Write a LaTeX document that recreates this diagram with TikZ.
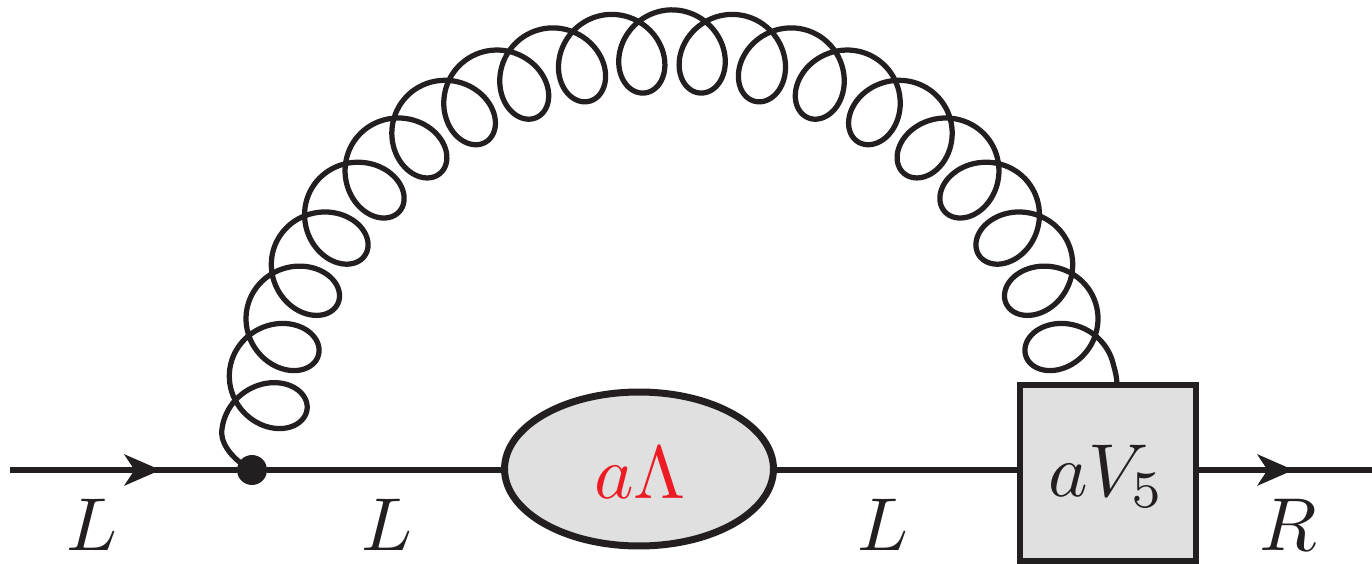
\documentclass[tikz,border=0pt]{standalone}
\usetikzlibrary{arrows.meta,shapes.geometric}
\definecolor{ink}{HTML}{231F20}
\definecolor{fillgrey}{HTML}{E0E0E0}
\definecolor{labelred}{HTML}{ED1C24}
\begin{document}
\begin{tikzpicture}[x=0.02cm,y=-0.02cm,
  declare function={
    ph(\t)=180+41.3793*(\t+4.35);
    rr(\t)=399.5+40.5*cos(ph(\t));
    ss(\t)=36*sin(ph(\t));
  },
  wire/.style={line width=0.112cm,draw=ink},
  arrowed/.style={wire,-{Stealth[length=0.72cm,width=0.62cm,inset=0.2cm]}},
  coilline/.style={line width=0.105cm,draw=ink,line join=round},
  blob/.style={ellipse,draw=ink,fill=fillgrey,line width=0.14cm,minimum width=5.38cm,minimum height=3.08cm,inner sep=0pt},
  boxv/.style={rectangle,draw=ink,fill=fillgrey,line width=0.115cm,minimum size=3.53cm,inner sep=0pt},
  vertexdot/.style={circle,fill=ink,minimum size=0.6cm,inner sep=0pt},
  lab/.style={scale=4.27,text=ink,inner sep=0pt}]
\useasboundingbox (0,0) rectangle (1372,564);
\coordinate (lstart) at (10,470);
\coordinate (ltip) at (160.5,470);
\coordinate (rtip) at (1293.5,470);
\coordinate (rend) at (1372,470);
\coordinate (coilend) at (1117,386);
\node[vertexdot] (dot) at (252,470) {};
% coil
\draw[coilline] (dot.center) .. controls (236,462) and (222,447) .. (221.6,432.7)
  -- plot[domain=-87:78.3,samples=1400,variable=\t]
  ({672+1.025*(rr(\t)*sin(\t)+ss(\t)*cos(\t))},{456-1.014*(rr(\t)*cos(\t)-ss(\t)*sin(\t))})
  .. controls (1115.5,372) and (1117,378) .. (coilend);
\draw[wire] (lstart) -- (dot);
\draw[arrowed] (lstart) -- (ltip);
\node[blob] (bl) at (639,469) {};
\node[boxv] (bx) at (1108,473) {};
\draw[wire] (dot) -- (dot -| bl.west);
\draw[wire] (dot -| bl.east) -- (dot -| bx.west);
\draw[wire] (dot -| bx.east) -- (rend);
\draw[arrowed] (dot -| bx.east) -- (rtip);
\node[lab,text=labelred] (t1) at (640,473) {$a\Lambda$};
\node[lab] (t2) at (1107,476) {$aV_5$};
\node[lab] (l1) at (92,525) {$L$};
\node[lab] (l2) at (387,525) {$L$};
\node[lab] (l3) at (883,525) {$L$};
\node[lab] (l4) at (1288,525) {$R$};
\end{tikzpicture}
\end{document}
